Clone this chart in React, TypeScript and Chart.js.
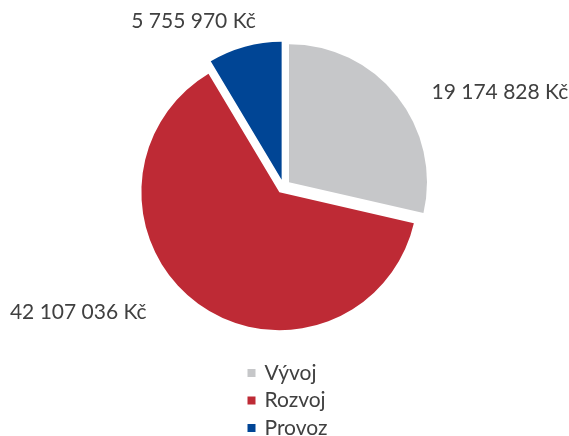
import React, { useEffect, useRef } from "react";
import { Chart, registerables } from "chart.js";

Chart.register(...registerables);

const categories = ["Vývoj", "Rozvoj", "Provoz"];
const values = [19174828, 42107036, 5755970];
const colors = ["#C6C7C9", "#BE2A35", "#004595"];

const FONT = "Lato, 'Open Sans', sans-serif";
const FONT_SIZE = 21;
const TEXT_COLOR = "#404040";
const EXPLODE = 7;
// label nudges from the bisector anchor (styling only)
const LABEL_NUDGE = [
  [99, -1],
  [-117, 4],
  [-50, -21],
];

function formatKc(v: number): string {
  return String(v).replace(/\B(?=(\d{3})+(?!\d))/g, " ") + " Kč";
}

const explodePlugin = {
  id: "explode",
  beforeDatasetDraw(chart: any, args: any) {
    const { ctx } = chart;
    const meta = args.meta;
    meta.data.forEach((arc: any) => {
      const p = arc.getProps(["startAngle", "endAngle"], true);
      const mid = (p.startAngle + p.endAngle) / 2;
      ctx.save();
      ctx.translate(Math.cos(mid) * EXPLODE, Math.sin(mid) * EXPLODE);
      arc.draw(ctx);
      ctx.restore();
    });
    return false;
  },
};

const labelPlugin = {
  id: "pieLabels",
  afterDraw(chart: any) {
    const { ctx } = chart;
    const meta = chart.getDatasetMeta(0);
    ctx.save();
    ctx.font = `${FONT_SIZE}px ${FONT}`;
    ctx.fillStyle = TEXT_COLOR;
    ctx.textAlign = "center";
    ctx.textBaseline = "middle";
    meta.data.forEach((arc: any, i: number) => {
      const p = arc.getProps(["x", "y", "startAngle", "endAngle", "outerRadius"], true);
      const mid = (p.startAngle + p.endAngle) / 2;
      const r = p.outerRadius + 12;
      const x = p.x + Math.cos(mid) * r + LABEL_NUDGE[i][0];
      const y = p.y + Math.sin(mid) * r + LABEL_NUDGE[i][1];
      ctx.fillText(formatKc(values[i]), x, y);
    });
    // legend
    const area = chart.chartArea;
    const lx = (area.left + area.right) / 2 - 36;
    const ly = area.bottom;
    categories.forEach((c, i) => {
      const cy = ly + i * 27.5;
      ctx.fillStyle = colors[i];
      ctx.fillRect(lx, cy - 4, 8, 8);
      ctx.fillStyle = TEXT_COLOR;
      ctx.textAlign = "left";
      ctx.fillText(c, lx + 17, cy);
    });
    ctx.restore();
  },
};

export default function App() {
  const ref = useRef<HTMLCanvasElement>(null);
  useEffect(() => {
    if (!ref.current) return;
    const chart = new Chart(ref.current, {
      type: "pie",
      data: {
        labels: categories,
        datasets: [
          {
            data: values,
            backgroundColor: colors,
            borderWidth: 0,
            offset: 0,
            hoverOffset: 0,
          },
        ],
      },
      options: {
        animation: false,
        responsive: false,
        radius: 138,
        layout: { padding: { top: 0, bottom: 63, left: 0, right: 2 } },
        plugins: {
          legend: { display: false },
          tooltip: { enabled: false },
        },
        events: [],
      },
      plugins: [explodePlugin, labelPlugin],
    });
    return () => chart.destroy();
  }, []);
  return (
    <div style={{ position: "absolute", left: 0, top: 0, width: 569, height: 436, background: "#fff" }}>
      <canvas ref={ref} width={569} height={436} style={{ display: "block" }} />
    </div>
  );
}
